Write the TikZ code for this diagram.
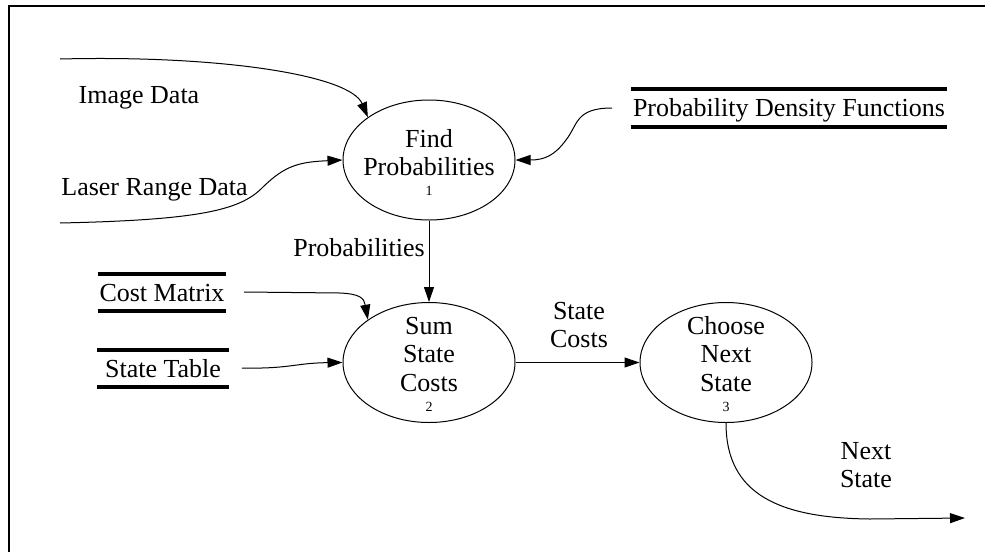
\documentclass[tikz,border=0pt]{standalone}
\usepackage{fontspec}
\setmainfont{Liberation Serif}
\usetikzlibrary{arrows.meta,shapes.geometric}
\begin{document}
\begin{tikzpicture}[x=1pt,y=-1pt,
  big/.style={font=\fontsize{26}{28.7}\selectfont},
  proc/.style={draw, ellipse, line width=1pt, minimum width=172pt, minimum height=120pt, inner sep=0pt},
  proctext/.style={big, align=center, inner sep=0pt},
  store/.style={big, inner xsep=0pt, inner ysep=0pt, minimum height=37.4pt, text height=17.5pt, text depth=0pt},
  storeline/.style={line width=4pt},
  flow/.style={line width=1pt, -{Triangle[length=15pt,width=10pt]}},
  lbl/.style={big, inner sep=0pt},
]
\useasboundingbox (0,0) rectangle (985,552);
% frame
\draw[line width=2pt] (9,552) -- (9,6) -- (985,6);

% processes
\node[proc] (p1) at (429,160) {};
\node[proctext] (p1t) at (429,162.6) {Find\\Probabilities\\[-8.7pt]{\fontsize{14}{14}\selectfont 1}};
\node[proc] (p2) at (429,362.5) {};
\node[proctext] (p2t) at (429,364.1) {Sum\\State\\Costs\\[-8.7pt]{\fontsize{14}{14}\selectfont 2}};
\node[proc] (p3) at (726,362.5) {};
\node[proctext] (p3t) at (726,364) {Choose\\Next\\State\\[-8.7pt]{\fontsize{14}{14}\selectfont 3}};

% data stores
\node[store, minimum width=316pt] (pdf) at (789,108) {Probability Density Functions};
\node[store, minimum width=128pt] (cost) at (162,292.5) {Cost Matrix};
\node[store, minimum width=132pt] (table) at (163,368.5) {State Table};
\foreach \s in {pdf,cost,table}
  \draw[storeline] (\s.north west) -- (\s.north east) (\s.south west) -- (\s.south east);

% free ends of the external flows
\coordinate (imgin) at (60,59);
\coordinate (laserin) at (60,223);
\coordinate (pdfout) at (612,108);
\coordinate (costout) at (244,292);
\coordinate (tableout) at (242,368);
\coordinate (nextout) at (965,518);

% flows
\draw[flow] (imgin) .. controls (220,55) and (350,75) .. (p1.145);
\draw[flow] (laserin) .. controls (200,220) and (240,210) .. (262,188)
            .. controls (285,165) and (300,162) .. (p1.west);
\draw[flow] (pdfout) .. controls (575,108) and (578,125) .. (566,140)
            .. controls (555,155) and (545,160) .. (p1.east);
\draw[flow] (p1.south) -- (p2.north);
\draw[flow] (costout) -- (340,293) .. controls (360,294) and (364,298) .. (p2.145);
\draw[flow] (tableout) .. controls (290,369) and (295,363) .. (p2.west);
\draw[flow] (p2.east) -- (p3.west);
\draw[flow] (p3.south) .. controls (726,495) and (780,518) .. (870,519) -- (nextout);

% flow labels
\node[lbl, anchor=base] (imglbl) at (139,103) {Image Data};
\node[lbl, anchor=base] (laserlbl) at (154.5,195) {Laser Range Data};
\node[lbl, anchor=base east] (problbl) at (425,256.7) {Probabilities};
\node[lbl, align=center] (costslbl) at (579,325) {State\\Costs};
\node[lbl, align=center] (nextlbl) at (866,465) {Next\\State};
\end{tikzpicture}
\end{document}
